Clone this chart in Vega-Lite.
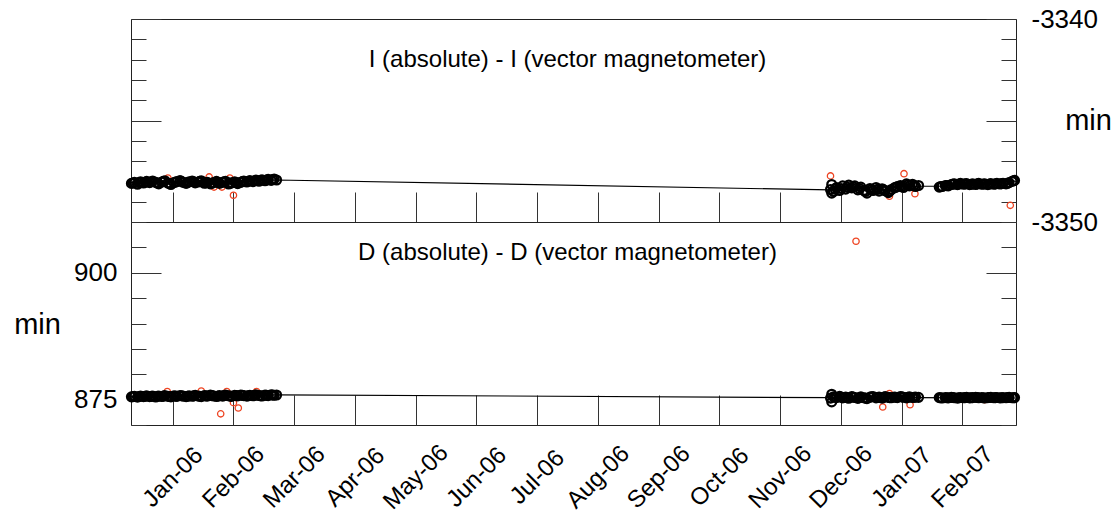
{
  "$schema": "https://vega.github.io/schema/vega-lite/v6.json",
  "padding": {"left": 13, "top": 5, "right": 5, "bottom": 5},
  "spacing": 0,
  "bounds": "flush",
  "config": {
    "font": "Liberation Sans",
    "view": {"stroke": "#222", "strokeWidth": 1},
    "axis": {"grid": false, "domain": false, "tickColor": "#333", "tickWidth": 1, "labelColor": "#000", "labelFont": "Liberation Sans", "titleFont": "Liberation Sans", "titleFontWeight": "normal", "titleColor": "#000"},
    "title": {"font": "Liberation Sans", "fontWeight": "normal", "color": "#000", "fontSize": 24, "anchor": "middle", "frame": "group", "baseline": "middle"}
  },
  "datasets": {
    "iObs": [
      {"m": -0.68, "v": -3348.10}, {"m": -0.63, "v": -3348.05}, {"m": -0.58, "v": -3348.14}, {"m": -0.53, "v": -3348.02},
      {"m": -0.48, "v": -3348.08}, {"m": -0.43, "v": -3348.00}, {"m": -0.38, "v": -3348.06}, {"m": -0.33, "v": -3347.98},
      {"m": -0.28, "v": -3348.04}, {"m": -0.23, "v": -3348.12}, {"m": -0.18, "v": -3348.03}, {"m": -0.13, "v": -3347.97},
      {"m": -0.08, "v": -3348.08}, {"m": -0.03, "v": -3348.15}, {"m": 0.02, "v": -3348.06}, {"m": 0.07, "v": -3348.01},
      {"m": 0.12, "v": -3347.96}, {"m": 0.17, "v": -3348.05}, {"m": 0.22, "v": -3348.10}, {"m": 0.27, "v": -3348.02},
      {"m": 0.32, "v": -3347.98}, {"m": 0.37, "v": -3348.07}, {"m": 0.42, "v": -3348.03}, {"m": 0.47, "v": -3347.97},
      {"m": 0.52, "v": -3348.09}, {"m": 0.57, "v": -3348.04}, {"m": 0.62, "v": -3348.12}, {"m": 0.67, "v": -3348.06},
      {"m": 0.72, "v": -3348.00}, {"m": 0.77, "v": -3348.10}, {"m": 0.82, "v": -3348.05}, {"m": 0.87, "v": -3347.99},
      {"m": 0.92, "v": -3348.13}, {"m": 0.97, "v": -3348.07}, {"m": 1.02, "v": -3348.02}, {"m": 1.07, "v": -3348.11},
      {"m": 1.12, "v": -3348.05}, {"m": 1.17, "v": -3347.98}, {"m": 1.22, "v": -3348.03}, {"m": 1.27, "v": -3347.96},
      {"m": 1.32, "v": -3348.01}, {"m": 1.37, "v": -3347.94}, {"m": 1.42, "v": -3347.99}, {"m": 1.47, "v": -3347.92},
      {"m": 1.52, "v": -3347.97}, {"m": 1.57, "v": -3347.90}, {"m": 1.62, "v": -3347.95}, {"m": 1.67, "v": -3347.88},
      {"m": 1.71, "v": -3347.93},
      {"m": -0.655, "v": -3348.08}, {"m": -0.555, "v": -3348.06}, {"m": -0.455, "v": -3348.04}, {"m": -0.355, "v": -3348.02},
      {"m": -0.255, "v": -3348.08}, {"m": -0.155, "v": -3348.00}, {"m": -0.055, "v": -3348.11}, {"m": 0.045, "v": -3348.03},
      {"m": 0.145, "v": -3348.00}, {"m": 0.245, "v": -3348.06}, {"m": 0.345, "v": -3348.02}, {"m": 0.445, "v": -3348.00},
      {"m": 0.545, "v": -3348.07}, {"m": 0.645, "v": -3348.09}, {"m": 0.745, "v": -3348.05}, {"m": 0.845, "v": -3348.02},
      {"m": 0.945, "v": -3348.10}, {"m": 1.045, "v": -3348.06}, {"m": 1.145, "v": -3348.01}, {"m": 1.245, "v": -3347.99},
      {"m": 1.345, "v": -3347.97}, {"m": 1.445, "v": -3347.95}, {"m": 1.545, "v": -3347.93}, {"m": 1.645, "v": -3347.91},
      {"m": 10.85, "v": -3348.15}, {"m": 10.85, "v": -3348.58},
      {"m": 10.83, "v": -3348.40}, {"m": 10.88, "v": -3348.50}, {"m": 10.93, "v": -3348.30}, {"m": 10.98, "v": -3348.45},
      {"m": 11.03, "v": -3348.22}, {"m": 11.08, "v": -3348.38}, {"m": 11.13, "v": -3348.18}, {"m": 11.18, "v": -3348.32},
      {"m": 11.23, "v": -3348.22}, {"m": 11.28, "v": -3348.42}, {"m": 11.33, "v": -3348.28}, {"m": 11.38, "v": -3348.45},
      {"m": 11.43, "v": -3348.58}, {"m": 11.48, "v": -3348.35}, {"m": 11.53, "v": -3348.45}, {"m": 11.58, "v": -3348.30},
      {"m": 11.63, "v": -3348.48}, {"m": 11.68, "v": -3348.36}, {"m": 11.73, "v": -3348.46}, {"m": 11.78, "v": -3348.55},
      {"m": 11.83, "v": -3348.40}, {"m": 11.88, "v": -3348.32}, {"m": 11.93, "v": -3348.26}, {"m": 11.98, "v": -3348.20},
      {"m": 12.03, "v": -3348.30}, {"m": 12.08, "v": -3348.12}, {"m": 12.13, "v": -3348.22}, {"m": 12.18, "v": -3348.14},
      {"m": 12.23, "v": -3348.25}, {"m": 12.28, "v": -3348.20},
      {"m": 10.905, "v": -3348.38}, {"m": 11.005, "v": -3348.35}, {"m": 11.105, "v": -3348.28}, {"m": 11.205, "v": -3348.27},
      {"m": 11.305, "v": -3348.35}, {"m": 11.405, "v": -3348.50}, {"m": 11.505, "v": -3348.40}, {"m": 11.605, "v": -3348.39},
      {"m": 11.705, "v": -3348.42}, {"m": 11.805, "v": -3348.48}, {"m": 11.905, "v": -3348.29}, {"m": 12.005, "v": -3348.25},
      {"m": 12.105, "v": -3348.17}, {"m": 12.205, "v": -3348.20},
      {"m": 12.62, "v": -3348.28}, {"m": 12.67, "v": -3348.25}, {"m": 12.72, "v": -3348.20}, {"m": 12.77, "v": -3348.22},
      {"m": 12.82, "v": -3348.15}, {"m": 12.87, "v": -3348.12}, {"m": 12.92, "v": -3348.16}, {"m": 12.97, "v": -3348.10},
      {"m": 13.02, "v": -3348.14}, {"m": 13.07, "v": -3348.11}, {"m": 13.12, "v": -3348.16}, {"m": 13.17, "v": -3348.12},
      {"m": 13.22, "v": -3348.15}, {"m": 13.27, "v": -3348.10}, {"m": 13.32, "v": -3348.14}, {"m": 13.37, "v": -3348.12},
      {"m": 13.42, "v": -3348.16}, {"m": 13.47, "v": -3348.11}, {"m": 13.52, "v": -3348.14}, {"m": 13.57, "v": -3348.10},
      {"m": 13.62, "v": -3348.13}, {"m": 13.67, "v": -3348.09}, {"m": 13.72, "v": -3348.12}, {"m": 13.77, "v": -3348.06},
      {"m": 13.82, "v": -3348.00}, {"m": 13.86, "v": -3347.95},
      {"m": 12.645, "v": -3348.26}, {"m": 12.745, "v": -3348.21}, {"m": 12.845, "v": -3348.13}, {"m": 12.945, "v": -3348.13},
      {"m": 13.045, "v": -3348.12}, {"m": 13.145, "v": -3348.14}, {"m": 13.245, "v": -3348.12}, {"m": 13.345, "v": -3348.13},
      {"m": 13.445, "v": -3348.13}, {"m": 13.545, "v": -3348.12}, {"m": 13.645, "v": -3348.11}, {"m": 13.745, "v": -3348.09},
      {"m": 13.845, "v": -3347.97}
    ],
    "iRej": [
      {"m": -0.08, "v": -3347.83}, {"m": 0.60, "v": -3347.78}, {"m": 0.68, "v": -3348.28}, {"m": 0.81, "v": -3348.28},
      {"m": 0.94, "v": -3347.83}, {"m": 1.00, "v": -3348.68}, {"m": 10.83, "v": -3347.73}, {"m": 12.04, "v": -3347.62},
      {"m": 11.80, "v": -3348.73}, {"m": 12.22, "v": -3348.61}, {"m": 13.79, "v": -3349.18}
    ],
    "iFit": [
      {"m": -0.687, "v": -3348.06}, {"m": 1.71, "v": -3347.93}, {"m": 10.83, "v": -3348.42},
      {"m": 12.28, "v": -3348.24}, {"m": 12.62, "v": -3348.24}, {"m": 13.86, "v": -3347.96}
    ],
    "dObs": [
      {"m": -0.68, "v": 875.55}, {"m": -0.63, "v": 875.65}, {"m": -0.58, "v": 875.50}, {"m": -0.53, "v": 875.70},
      {"m": -0.48, "v": 875.60}, {"m": -0.43, "v": 875.75}, {"m": -0.38, "v": 875.58}, {"m": -0.33, "v": 875.68},
      {"m": -0.28, "v": 875.52}, {"m": -0.23, "v": 875.72}, {"m": -0.18, "v": 875.62}, {"m": -0.13, "v": 875.80},
      {"m": -0.08, "v": 875.66}, {"m": -0.03, "v": 875.55}, {"m": 0.02, "v": 875.74}, {"m": 0.07, "v": 875.64},
      {"m": 0.12, "v": 875.82}, {"m": 0.17, "v": 875.70}, {"m": 0.22, "v": 875.58}, {"m": 0.27, "v": 875.76},
      {"m": 0.32, "v": 875.66}, {"m": 0.37, "v": 875.85}, {"m": 0.42, "v": 875.72}, {"m": 0.47, "v": 875.60},
      {"m": 0.52, "v": 875.78}, {"m": 0.57, "v": 875.68}, {"m": 0.62, "v": 875.88}, {"m": 0.67, "v": 875.74},
      {"m": 0.72, "v": 875.62}, {"m": 0.77, "v": 875.80}, {"m": 0.82, "v": 875.70}, {"m": 0.87, "v": 875.90},
      {"m": 0.92, "v": 875.76}, {"m": 0.97, "v": 875.64}, {"m": 1.02, "v": 875.84}, {"m": 1.07, "v": 875.74},
      {"m": 1.12, "v": 875.92}, {"m": 1.17, "v": 875.78}, {"m": 1.22, "v": 875.68}, {"m": 1.27, "v": 875.86},
      {"m": 1.32, "v": 875.76}, {"m": 1.37, "v": 875.94}, {"m": 1.42, "v": 875.82}, {"m": 1.47, "v": 875.72},
      {"m": 1.52, "v": 875.90}, {"m": 1.57, "v": 875.80}, {"m": 1.62, "v": 875.96}, {"m": 1.67, "v": 875.86},
      {"m": 1.71, "v": 875.92},
      {"m": -0.655, "v": 875.60}, {"m": -0.555, "v": 875.62}, {"m": -0.455, "v": 875.66}, {"m": -0.355, "v": 875.63},
      {"m": -0.255, "v": 875.67}, {"m": -0.155, "v": 875.70}, {"m": -0.055, "v": 875.61}, {"m": 0.045, "v": 875.69},
      {"m": 0.145, "v": 875.76}, {"m": 0.245, "v": 875.67}, {"m": 0.345, "v": 875.75}, {"m": 0.445, "v": 875.66},
      {"m": 0.545, "v": 875.73}, {"m": 0.645, "v": 875.80}, {"m": 0.745, "v": 875.71}, {"m": 0.845, "v": 875.80},
      {"m": 0.945, "v": 875.70}, {"m": 1.045, "v": 875.79}, {"m": 1.145, "v": 875.85}, {"m": 1.245, "v": 875.77},
      {"m": 1.345, "v": 875.85}, {"m": 1.445, "v": 875.77}, {"m": 1.545, "v": 875.85}, {"m": 1.645, "v": 875.91},
      {"m": 10.85, "v": 876.05}, {"m": 10.85, "v": 874.55},
      {"m": 10.83, "v": 875.30}, {"m": 10.88, "v": 875.55}, {"m": 10.93, "v": 875.40}, {"m": 10.98, "v": 875.65},
      {"m": 11.03, "v": 875.35}, {"m": 11.08, "v": 875.50}, {"m": 11.13, "v": 875.28}, {"m": 11.18, "v": 875.60},
      {"m": 11.23, "v": 875.42}, {"m": 11.28, "v": 875.25}, {"m": 11.33, "v": 875.55}, {"m": 11.38, "v": 875.38},
      {"m": 11.43, "v": 875.20}, {"m": 11.48, "v": 875.48}, {"m": 11.53, "v": 875.62}, {"m": 11.58, "v": 875.35},
      {"m": 11.63, "v": 875.50}, {"m": 11.68, "v": 875.30}, {"m": 11.73, "v": 875.58}, {"m": 11.78, "v": 875.44},
      {"m": 11.83, "v": 875.36}, {"m": 11.88, "v": 875.52}, {"m": 11.93, "v": 875.40}, {"m": 11.98, "v": 875.62},
      {"m": 12.03, "v": 875.46}, {"m": 12.08, "v": 875.34}, {"m": 12.13, "v": 875.56}, {"m": 12.18, "v": 875.42},
      {"m": 12.23, "v": 875.50}, {"m": 12.28, "v": 875.45},
      {"m": 10.905, "v": 875.47}, {"m": 11.005, "v": 875.50}, {"m": 11.105, "v": 875.39}, {"m": 11.205, "v": 875.51},
      {"m": 11.305, "v": 875.40}, {"m": 11.405, "v": 875.29}, {"m": 11.505, "v": 875.55}, {"m": 11.605, "v": 875.42},
      {"m": 11.705, "v": 875.44}, {"m": 11.805, "v": 875.40}, {"m": 11.905, "v": 875.46}, {"m": 12.005, "v": 875.54},
      {"m": 12.105, "v": 875.45}, {"m": 12.205, "v": 875.46},
      {"m": 12.62, "v": 875.40}, {"m": 12.67, "v": 875.32}, {"m": 12.72, "v": 875.42}, {"m": 12.77, "v": 875.35},
      {"m": 12.82, "v": 875.45}, {"m": 12.87, "v": 875.38}, {"m": 12.92, "v": 875.30}, {"m": 12.97, "v": 875.42},
      {"m": 13.02, "v": 875.36}, {"m": 13.07, "v": 875.44}, {"m": 13.12, "v": 875.34}, {"m": 13.17, "v": 875.40},
      {"m": 13.22, "v": 875.46}, {"m": 13.27, "v": 875.36}, {"m": 13.32, "v": 875.42}, {"m": 13.37, "v": 875.32},
      {"m": 13.42, "v": 875.40}, {"m": 13.47, "v": 875.44}, {"m": 13.52, "v": 875.36}, {"m": 13.57, "v": 875.42},
      {"m": 13.62, "v": 875.34}, {"m": 13.67, "v": 875.40}, {"m": 13.72, "v": 875.38}, {"m": 13.77, "v": 875.44},
      {"m": 13.82, "v": 875.36}, {"m": 13.86, "v": 875.40},
      {"m": 12.645, "v": 875.36}, {"m": 12.745, "v": 875.38}, {"m": 12.845, "v": 875.41}, {"m": 12.945, "v": 875.36},
      {"m": 13.045, "v": 875.40}, {"m": 13.145, "v": 875.37}, {"m": 13.245, "v": 875.41}, {"m": 13.345, "v": 875.37},
      {"m": 13.445, "v": 875.42}, {"m": 13.545, "v": 875.39}, {"m": 13.645, "v": 875.37}, {"m": 13.745, "v": 875.41},
      {"m": 13.845, "v": 875.38}
    ],
    "dRej": [
      {"m": -0.09, "v": 876.6}, {"m": 0.47, "v": 876.7}, {"m": 0.89, "v": 876.6}, {"m": 0.79, "v": 872.2},
      {"m": 1.00, "v": 874.4}, {"m": 1.08, "v": 873.35}, {"m": 1.38, "v": 876.6},
      {"m": 11.25, "v": 906.2}, {"m": 11.69, "v": 873.55}, {"m": 12.14, "v": 874.0}, {"m": 11.80, "v": 876.2},
      {"m": 13.37, "v": 875.0}
    ],
    "dFit": [
      {"m": -0.687, "v": 875.6}, {"m": 1.71, "v": 875.95}, {"m": 10.83, "v": 875.38},
      {"m": 12.28, "v": 875.38}, {"m": 13.86, "v": 875.3}
    ]
  },
  "vconcat": [
    {
      "title": {"text": "I (absolute) - I (vector magnetometer)", "offset": -66, "dx": -6},
      "width": 885,
      "height": 203,
      "encoding": {
        "x": {"field": "m", "type": "quantitative", "scale": {"domain": [-0.687, 13.884], "nice": false, "zero": false},
          "axis": {"orient": "bottom", "values": [0, 1, 2, 3, 4, 5, 6, 7, 8, 9, 10, 11, 12, 13],
            "tickSize": {"condition": {"test": "datum.value >= 0", "value": -30}, "value": -30},
            "labels": false, "title": null}}
      },
      "layer": [
        {
          "data": {"name": "iRej"},
          "mark": {"type": "point", "shape": "circle", "filled": false, "color": "#ee4422", "size": 40, "strokeWidth": 1.3, "opacity": 1},
          "encoding": {
            "y": {"field": "v", "type": "quantitative", "scale": {"domain": [-3350, -3340], "nice": false, "zero": false},
              "axis": {"orient": "left", "values": [-3350, -3349, -3348, -3347, -3346, -3345, -3344, -3343, -3342, -3341, -3340],
                "labels": false, "title": null,
                "tickSize": {"condition": {"test": "datum.value % 5 === 0", "value": -30}, "value": -15}}}
          }
        },
        {
          "data": {"name": "iFit"},
          "mark": {"type": "line", "color": "#000", "strokeWidth": 1.2},
          "encoding": {
            "y": {"field": "v", "type": "quantitative", "axis": null}
          }
        },
        {
          "data": {"name": "iObs"},
          "mark": {"type": "point", "shape": "circle", "filled": false, "color": "#000", "size": 78, "strokeWidth": 2.3, "opacity": 1},
          "encoding": {
            "y": {"field": "v", "type": "quantitative",
              "axis": {"orient": "right", "values": [-3350, -3349, -3348, -3347, -3346, -3345, -3344, -3343, -3342, -3341, -3340],
                "labelExpr": "datum.value % 10 === 0 ? '' + datum.value : ''",
                "tickSize": {"condition": {"test": "datum.value % 5 === 0", "value": -30}, "value": -15},
                "labelFontSize": 26, "labelAlign": "left", "labelBaseline": "middle", "labelPadding": 45,
                "labelBound": false, "labelFlush": false, "labelOverlap": false,
                "title": "min", "titleFontSize": 29, "titleAngle": 0, "titleAlign": "center", "titleBaseline": "middle",
                "titleX": 72, "titleY": 101.5}}
          }
        }
      ],
      "resolve": {"axis": {"y": "independent"}}
    },
    {
      "title": {"text": "D (absolute) - D (vector magnetometer)", "offset": -56, "dx": -6},
      "width": 885,
      "height": 203,
      "encoding": {
        "x": {"field": "m", "type": "quantitative", "scale": {"domain": [-0.687, 13.884], "nice": false, "zero": false},
          "axis": {"orient": "bottom", "values": [0, 1, 2, 3, 4, 5, 6, 7, 8, 9, 10, 11, 12, 13],
            "tickSize": {"condition": {"test": "datum.value >= 0", "value": -30}, "value": -30},
            "labelExpr": "['Jan-06','Feb-06','Mar-06','Apr-06','May-06','Jun-06','Jul-06','Aug-06','Sep-06','Oct-06','Nov-06','Dec-06','Jan-07','Feb-07'][datum.value]",
            "labelAngle": -45, "labelAlign": "center", "labelBaseline": "middle", "labelPadding": 82, "labelFontSize": 24,
            "labelOverlap": false, "labelFlush": false, "labelBound": false, "title": null}}
      },
      "layer": [
        {
          "data": {"name": "dRej"},
          "mark": {"type": "point", "shape": "circle", "filled": false, "color": "#ee4422", "size": 40, "strokeWidth": 1.3, "opacity": 1},
          "encoding": {
            "y": {"field": "v", "type": "quantitative", "scale": {"domain": [870, 910], "nice": false, "zero": false},
              "axis": {"orient": "left", "values": [870, 875, 880, 885, 890, 895, 900, 905, 910],
                "labelExpr": "datum.value % 25 === 0 ? '' + datum.value : ''",
                "tickSize": {"condition": {"test": "datum.value % 25 === 0", "value": -30}, "value": -15},
                "labelFontSize": 26, "labelAlign": "right", "labelBaseline": "middle", "labelPadding": 44,
                "labelBound": false, "labelFlush": false, "labelOverlap": false,
                "title": "min", "titleFontSize": 29, "titleAngle": 0, "titleAlign": "center", "titleBaseline": "middle",
                "titleX": -94, "titleY": 102}}
          }
        },
        {
          "data": {"name": "dFit"},
          "mark": {"type": "line", "color": "#000", "strokeWidth": 1.2},
          "encoding": {
            "y": {"field": "v", "type": "quantitative", "axis": null}
          }
        },
        {
          "data": {"name": "dObs"},
          "mark": {"type": "point", "shape": "circle", "filled": false, "color": "#000", "size": 78, "strokeWidth": 2.3, "opacity": 1},
          "encoding": {
            "y": {"field": "v", "type": "quantitative",
              "axis": {"orient": "right", "values": [870, 875, 880, 885, 890, 895, 900, 905, 910], "labels": false, "title": null,
                "tickSize": {"condition": {"test": "datum.value % 25 === 0", "value": -30}, "value": -15}}}
          }
        }
      ],
      "resolve": {"axis": {"y": "independent"}}
    }
  ]
}
